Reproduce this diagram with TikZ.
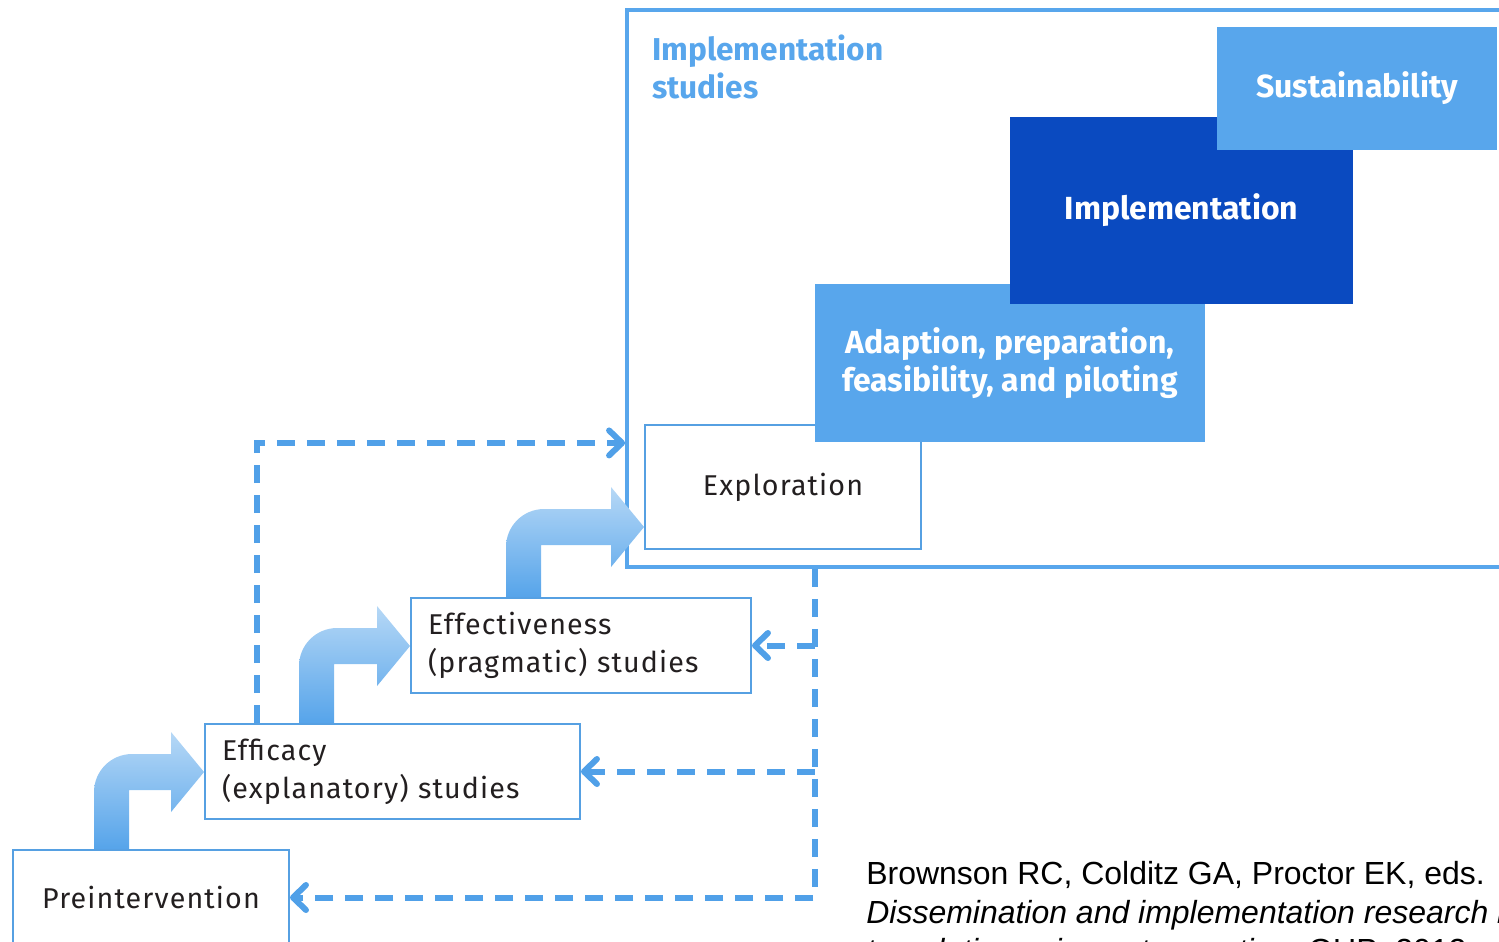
\documentclass[tikz,border=0pt]{standalone}
\usepackage{fontspec}
\setmainfont{Fira Sans}
\newfontfamily\stagefont[LetterSpace=4]{Fira Sans}
\newfontfamily\citefont{Liberation Sans}
\usetikzlibrary{arrows.meta,calc}

\definecolor{lightblue}{RGB}{88,166,236}
\definecolor{darkblue}{RGB}{10,74,192}
\definecolor{linkblue}{RGB}{80,160,232}
\definecolor{boxblue}{RGB}{86,160,226}
\definecolor{textgrey}{RGB}{35,31,32}
\definecolor{shadetop}{RGB}{182,216,246}
\definecolor{shadebot}{RGB}{86,164,234}

\tikzset{
  stage/.style={draw=boxblue, line width=0.04cm, fill=white, text=textgrey,
    font=\stagefont\fontsize{16.3}{21.5}\selectfont},
  phase/.style={fill=#1, text=white, align=center, inner sep=0pt,
    font=\bfseries\fontsize{18.2}{22}\selectfont},
  dashlink/.style={linkblue, line width=0.12cm, dash pattern=on 0.36cm off 0.24cm,
    -{Straight Barb[length=0.26cm,width=0.5cm,round]}},
  bentfill/.style={top color=shadetop, bottom color=shadebot, draw=none}
}

\newcommand{\bentarrow}[4]{%
  \coordinate (ba-s) at ($(#1.north west)+(#3,0)$);
  \coordinate (ba-m) at ($(ba-s)+(0,-#4)$);
  \coordinate (ba-t) at (#2.west |- ba-m);
  \path[bentfill] (ba-s) -- ($(ba-m)+(0,20)$)
    .. controls ($(ba-m)+(0,-1)$) and ($(ba-m)+(17,-18)$) .. ($(ba-m)+(38,-18)$)
    -- ($(ba-t)+(-33,-18)$) -- ($(ba-t)+(-33,-40)$) -- (ba-t)
    -- ($(ba-t)+(-33,40)$) -- ($(ba-t)+(-33,18)$)
    -- ($(ba-m)+(35,18)$) -- ($(ba-s)+(35,0)$) -- cycle;
}

\begin{document}
\begin{tikzpicture}[x=0.02cm, y=-0.02cm]
\path[use as bounding box, clip] (0,0) rectangle (1499,941);

\node[draw=lightblue, line width=0.08cm, minimum width=18.26cm, minimum height=11.14cm, inner sep=0pt] (studies) at (1083.5,288.5) {};
\node[anchor=north west, align=left, inner sep=0pt, text=lightblue, font=\bfseries\fontsize{18}{22}\selectfont] (studylabel) at (652,34) {Implementation\\studies};

\node[stage, minimum width=5.52cm, minimum height=2.48cm] (explor) at (783,487) {Exploration};
\node[phase=lightblue, minimum width=7.8cm, minimum height=3.16cm] (adapt) at (1010,363) {Adaption, preparation,\\feasibility, and piloting};
\node[phase=darkblue, minimum width=6.86cm, minimum height=3.74cm] (implem) at (1181.5,210.5) {Implementation};
\node[phase=lightblue, minimum width=5.6cm, minimum height=2.46cm] (sustain) at (1357,88.5) {Sustainability};

\node[stage, minimum width=5.52cm, minimum height=1.9cm] (pre) at (151,897.5) {Preintervention};
\node[stage, minimum width=7.5cm, minimum height=1.9cm, text width=6.82cm, align=left] (efficacy) at (392.5,771.5) {Efficacy\\(explanatory) studies};
\node[stage, minimum width=6.8cm, minimum height=1.9cm, text width=6.12cm, align=left] (effect) at (581,645.5) {Effectiveness\\(pragmatic) studies};

\bentarrow{pre}{efficacy}{82}{77}
\bentarrow{efficacy}{effect}{95}{77}
\bentarrow{effect}{explor}{96}{70}

\coordinate (toprow) at ($(studies.south west)+(0,-126)$);
\draw[dashlink] ($(efficacy.north west)+(53,0)$) |- (toprow);
\draw[dashlink] (adapt.west |- studies.south) |- (pre.east);
\draw[dashlink] (adapt.west |- effect.east) -- (effect.east);
\draw[dashlink] (adapt.west |- efficacy.east) -- (efficacy.east);

\node[anchor=north west, align=left, inner sep=0pt, font=\citefont\fontsize{18.2}{22}\selectfont] (cite) at (866,861) {Brownson RC, Colditz GA, Proctor EK, eds.\\\textit{Dissemination and implementation research in health:}\\\textit{translating science to practice.} OUP; 2012.};
\end{tikzpicture}
\end{document}
